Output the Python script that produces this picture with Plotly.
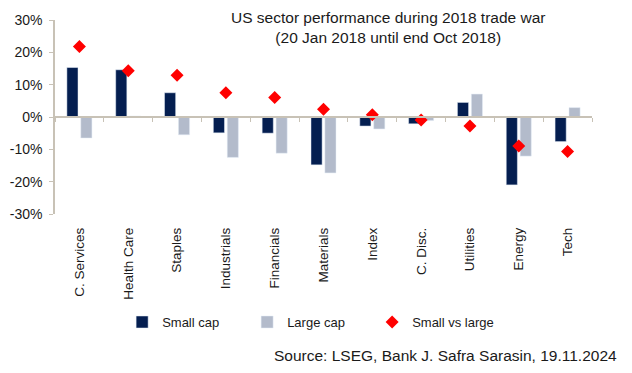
import plotly.graph_objects as go

categories = ["C. Services", "Health Care", "Staples", "Industrials", "Financials",
              "Materials", "Index", "C. Disc.", "Utilities", "Energy", "Tech"]
small_cap = [15.3, 14.6, 7.5, -4.9, -5.0, -14.8, -2.8, -2.1, 4.5, -21.0, -7.6]
large_cap = [-6.5, 0.3, -5.5, -12.5, -11.2, -17.3, -3.7, -1.1, 7.1, -12.1, 2.9]
small_vs_large = [21.8, 14.3, 12.9, 7.5, 6.0, 2.4, 0.7, -0.9, -2.8, -9.0, -10.7]
y_ticks = [-30, -20, -10, 0, 10, 20, 30]
y_tick_labels = ["-30%", "-20%", "-10%", "0%", "10%", "20%", "30%"]

FONT = "Liberation Sans, Arial, sans-serif"
TXT = "#1a1a1a"
AXC = "#c8c2b6"

fig = go.Figure()
fig.add_trace(go.Bar(name="Small cap", x=categories, y=small_cap,
                     marker=dict(color="#041E50")))
fig.add_trace(go.Bar(name="Large cap", x=categories, y=large_cap,
                     marker=dict(color="#B3BBCB")))
fig.add_trace(go.Scatter(name="Small vs large", x=categories, y=small_vs_large,
                         mode="markers",
                         marker=dict(symbol="diamond", size=10, color="#FF0000")))
# invisible helper trace for the zero-line category axis
fig.add_trace(go.Scatter(x=categories, y=[None] * len(categories), xaxis="x2",
                         showlegend=False, hoverinfo="skip", mode="markers"))

# page body has an 8px margin, so the figure is sized to fill the rest of the window
fig.update_layout(
    width=624, height=365,
    margin=dict(l=47, r=40, t=12, b=159, autoexpand=False),
    paper_bgcolor="white", plot_bgcolor="white",
    font=dict(family=FONT, size=13, color=TXT),
    barmode="group", bargap=0.43, bargroupgap=0.2,
    showlegend=True,
    legend=dict(orientation="h", x=0.125, y=-0.557, xanchor="left", yanchor="middle",
                font=dict(size=13, color=TXT), entrywidth=80, entrywidthmode="pixels",
                itemwidth=30, bgcolor="rgba(0,0,0,0)"),
    xaxis=dict(type="category", categoryorder="array", categoryarray=categories,
               range=[-0.5, 10.5], showline=False, showgrid=False, zeroline=False,
               ticks="", tickangle=-90, ticklabelstandoff=10, automargin=False,
               tickfont=dict(size=13.5, color=TXT)),
    xaxis2=dict(type="category", categoryorder="array", categoryarray=categories,
                range=[-0.5, 10.5], overlaying="x", anchor="free", position=0.5,
                side="bottom", showline=True, linecolor=AXC, linewidth=1.5,
                ticks="outside", tickson="boundaries", ticklen=4, tickcolor=AXC,
                tickwidth=1, showticklabels=False, showgrid=False, zeroline=False,
                automargin=False),
    yaxis=dict(range=[-30, 30], tickmode="array", tickvals=y_ticks, ticktext=y_tick_labels,
               showline=True, linecolor=AXC, linewidth=1.5, ticks="outside",
               ticklen=4, tickcolor=AXC, showgrid=False, zeroline=False, automargin=False,
               tickfont=dict(size=14, color=TXT), ticklabelstandoff=4),
    annotations=[
        dict(text="US sector performance during 2018 trade war<br>(20 Jan 2018 until end Oct 2018)",
             x=0.62, y=0.96, xref="paper", yref="paper", xanchor="center", yanchor="middle",
             showarrow=False, align="center", font=dict(size=15.5, color=TXT)),
        dict(text="Source: LSEG, Bank J. Safra Sarasin, 19.11.2024",
             x=1.05, y=-0.73, xref="paper", yref="paper", xanchor="right", yanchor="middle",
             showarrow=False, font=dict(size=15.5, color=TXT)),
    ],
)

fig.write_html("out.html")
